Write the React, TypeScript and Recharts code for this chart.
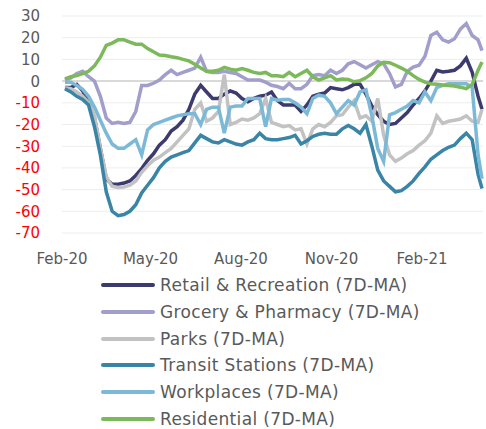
import React from "react";
import { LineChart, Line, XAxis, YAxis, CartesianGrid, Legend, ReferenceLine } from "recharts";

// days since 1 Feb 2020
const days = [
  3, 9, 15, 21, 27, 33, 39, 45, 51, 57, 63, 69,
  75, 81, 87, 93, 99, 105, 111, 117, 123, 129, 135, 141,
  147, 153, 159, 165, 171, 177, 183, 189, 195, 201, 207, 213,
  219, 225, 231, 237, 243, 249, 255, 261, 267, 273, 279, 285,
  291, 297, 303, 309, 315, 321, 327, 333, 339, 345, 351, 357,
  363, 369, 375, 381, 387, 393, 399, 405, 411, 417, 423, 427,
];

const retail = [
  -3, -3, -1.5, -4.5, -9.6, -17, -31, -45, -47.5, -47.5, -47, -46,
  -43.5, -40.3, -36.5, -33.5, -29.5, -27, -23, -21, -18, -13, -6, -2,
  -5, -8, -8, -6, -4.5, -5.5, -8, -9.5, -8, -7, -6.5, -5,
  -9, -11, -11, -11, -14, -11, -7, -6, -5.5, -3, -3.5, -4,
  -3, -1.5, -1.5, -6, -11.5, -15.5, -18.5, -20, -19.5, -17, -14.5, -11,
  -8, -4.5, 0, 5, 4.2, 4.5, 5, 7, 10.5, 4, -7, -13,
];

const grocery = [
  0.5, 1.5, 3.5, 4.5, 2, 0, -7, -17, -19.5, -19, -19.5, -19,
  -14, -2, -2, -1, 0.5, 3, 5, 3, 4, 5, 6, 11,
  4.5, 4, 4, 4.5, 4, 3.5, 2, 0.5, 0.5, 0.5, -0.5, -1.9,
  -2.5, -3.5, -1, -3.5, -3.5, -1.5, 2.5, 3, 2.5, 5, 3.5, 5,
  8, 9, 7.5, 6, 7.5, 9, 8, 3.5, -2.7, -1.5, 4.5, 6.5,
  7.3, 11.5, 21, 22.5, 19, 18, 19.5, 24, 26.5, 21, 19, 14,
];

const parks = [
  -3, -3.5, -5, -7, -10, -16, -31, -44, -48.5, -49, -48.8, -48,
  -46, -42, -39, -36.5, -35, -33, -31, -28, -25, -22, -13, -10,
  -18.5, -17, -14, 3, -20, -19, -17.5, -18, -17, -15, -8, -19,
  -20, -21, -20.5, -22.5, -22, -29, -22, -20, -21, -19, -16, -15.5,
  -12, -9, -17, -16, -18.5, -8, -25, -34, -37, -35.5, -33.5, -32,
  -29.5, -27.5, -24, -16, -19.5, -18.5, -18, -17.5, -16, -18.5, -19, -13,
];

const transit = [
  -3.5, -5, -7, -8.5, -11, -21, -34, -51, -60, -62, -61.5, -60,
  -57, -51.5, -48, -44.5, -40, -37, -35, -34, -33, -32, -28.5, -25,
  -26.5, -28, -28.5, -27, -28, -29, -29.5, -28, -27, -24, -26.5, -27,
  -27, -26.5, -26, -25, -29, -27.5, -25.5, -24.5, -24, -24.5, -24.5, -22,
  -20.5, -22, -24, -20, -30, -41, -46, -48.5, -51, -50.5, -48.5, -46,
  -42.5, -39.5, -36, -34, -32, -30.5, -29.5, -26.5, -24, -27, -43, -49.5,
];

const workplaces = [
  -0.5, -0.5, -2, -3.8, -7, -12, -18, -24, -29, -31, -31, -29,
  -27, -34, -22.5, -20, -19, -18, -17, -16, -15.5, -15, -15, -20,
  -13, -12, -12, -24, -12, -11.5, -11.5, -8, -8, -8, -21, -8,
  -8.8, -8.5, -8.5, -10, -12, -15, -8, -6.5, -7, -10, -15, -12,
  -9, -11, -5, -4, -16, -31, -37, -15.5, -14.5, -13, -11.5, -9,
  -10, -5, -9, -3, -2, -1.2, -1.2, -1.2, -1.2, -3, -34, -45,
];

const residential = [
  1, 2, 2.5, 3.5, 4.5, 7, 11, 16.5, 17.5, 19, 19, 18,
  17, 17, 15, 13.5, 12, 11.8, 11.2, 10.8, 10, 9.3, 7.8, 6,
  4.5, 4.5, 5, 6.3, 5.5, 5, 5.8, 5, 4, 3.5, 4, 2.5,
  2.5, 2, 4, 2, 3.5, 5, 2, 0.5, 1.5, 2.5, 0.5, 1,
  0.8, -0.3, 0.2, 1.5, 3.5, 7, 8.7, 8.5, 7.3, 6, 4.5, 2.5,
  0.8, -0.5, -1.2, -1.5, -1.8, -2, -2.3, -2.8, -3.5, -1.5, 5, 8.8,
];

const monthTicks = [0, 90, 182, 274, 366];
const monthLabels = ["Feb-20", "May-20", "Aug-20", "Nov-20", "Feb-21"];
const yTicks = [-70, -60, -50, -40, -30, -20, -10, 0, 10, 20, 30];

const series = [
  { key: "retail", name: "Retail & Recreation (7D-MA)", color: "#3d3b6d" },
  { key: "grocery", name: "Grocery & Pharmacy (7D-MA)", color: "#a29ecb" },
  { key: "parks", name: "Parks (7D-MA)", color: "#c2c2c2" },
  { key: "transit", name: "Transit Stations (7D-MA)", color: "#3a84a7" },
  { key: "workplaces", name: "Workplaces (7D-MA)", color: "#7cb9d7" },
  { key: "residential", name: "Residential (7D-MA)", color: "#7cb95a" },
];

const data = days.map((d, i) => ({
  day: d,
  retail: retail[i],
  grocery: grocery[i],
  parks: parks[i],
  transit: transit[i],
  workplaces: workplaces[i],
  residential: residential[i],
}));

const FONT = "'DejaVu Sans', sans-serif";
const TEXT = "#595959";

function YTick(props: any) {
  const { x, y, payload } = props;
  return (
    <text x={x} y={y} dy="0.36em" textAnchor="end" fontSize={15} fontFamily={FONT}
      fill={payload.value < 0 ? "#ff0000" : TEXT}>
      {payload.value}
    </text>
  );
}

function LegendBox() {
  return (
    <div style={{ fontFamily: FONT, fontSize: 17, letterSpacing: 0.35, color: TEXT }}>
      {series.map((s) => (
        <div key={s.key} style={{ display: "flex", alignItems: "center", height: 26.7, whiteSpace: "nowrap" }}>
          <span style={{ display: "inline-block", width: 54, height: 4, background: s.color, borderRadius: 2, marginRight: 5 }} />
          <span>{s.name}</span>
        </div>
      ))}
    </div>
  );
}

export default function App() {
  return (
    <div style={{ position: "absolute", left: 0, top: 0, width: 486, height: 429, background: "#fff" }}>
      <LineChart width={486} height={429} data={data} margin={{ top: 16, right: 3, left: 0, bottom: 168 }}>
        <CartesianGrid vertical={false} stroke="#ededed" strokeWidth={1} />
        <XAxis
          dataKey="day"
          type="number"
          domain={[0, 428]}
          ticks={monthTicks}
          interval={0}
          tickFormatter={(v: number) => monthLabels[monthTicks.indexOf(v)]}
          axisLine={false}
          tickLine={false}
          tickMargin={14}
          height={28}
          tick={{ fontSize: 15, fontFamily: FONT, fill: TEXT }}
        />
        <YAxis
          type="number"
          domain={[-70, 30]}
          ticks={yTicks}
          interval={0}
          width={62}
          axisLine={false}
          tickLine={false}
          tickMargin={16}
          tick={<YTick />}
        />
        <ReferenceLine y={0} stroke="#d9d9d9" strokeWidth={2} />
        {series.map((s) => (
          <Line
            key={s.key}
            dataKey={s.key}
            name={s.name}
            stroke={s.color}
            strokeWidth={3.5}
            dot={false}
            type="linear"
            isAnimationActive={false}
          />
        ))}
        <Legend
          layout="vertical"
          align="center"
          verticalAlign="middle"
          content={<LegendBox />}
          wrapperStyle={{ left: 101, top: 272, width: 385 }}
        />
      </LineChart>
    </div>
  );
}
